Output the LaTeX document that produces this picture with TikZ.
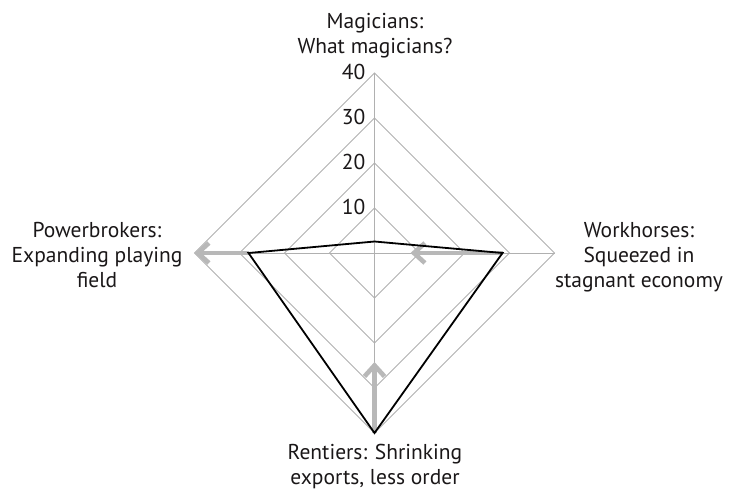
\documentclass[tikz,border=0pt]{standalone}
\usepackage{fontspec}
\setmainfont{PT Sans}
\usetikzlibrary{arrows.meta,calc}
\definecolor{ringgray}{HTML}{B0B0B0}
\definecolor{arrowgray}{HTML}{B8B8B8}
\definecolor{txt}{HTML}{1A1718}
\begin{document}
\begin{tikzpicture}[x=1pt,y=1pt,
  ring/.style={draw=ringgray, line width=0.9pt},
  series/.style={draw=black, line width=1.8pt, line join=miter},
  trend/.style={draw=arrowgray, line width=4.6pt, -{Straight Barb[length=11pt,width=20pt]}},
  cat/.style={align=center, inner sep=0pt, text=txt, font=\fontsize{21.5}{25}\selectfont},
  tick/.style={anchor=east, inner sep=0pt, text=txt, font=\fontsize{21.5}{25}\selectfont}]
\useasboundingbox (0,0) rectangle (730,-490);
\begin{scope}[shift={(374.5,-253)}]
  \foreach \r in {45,90,135,180}
    \draw[ring] (90:\r) -- (0:\r) -- (270:\r) -- (180:\r) -- cycle;
  \coordinate (top) at (90:180);
  \coordinate (bot) at (270:180);
  \coordinate (lft) at (180:180);
  \coordinate (rgt) at (0:180);
  \draw[ring] (top) -- (bot);
  \draw[ring] (lft) -- (rgt);
  \node[tick] (t10) at ($(90:45)+(-9,1)$) {10};
  \node[tick] (t20) at ($(90:90)+(-9,1)$) {20};
  \node[tick] (t30) at ($(90:135)+(-9,1)$) {30};
  \node[tick] (t40) at ($(90:180)+(-9,1)$) {40};
  \coordinate (dM) at (90:11.5);
  \coordinate (dW) at (0:128);
  \coordinate (dR) at (270:180);
  \coordinate (dP) at (180:126);
  \coordinate (aW) at (0:36);
  \coordinate (aR) at (270:109);
  \draw[trend] (dP) -- (lft);
  \draw[trend] (dW) -- (aW);
  \draw[trend] (dR) -- (aR);
  \draw[series] (dM) -- (dW) -- (dR) -- (dP) -- cycle;
\end{scope}
\node[cat] (mag) at (375,-36) {Magicians:\\What magicians?};
\node[cat] (pow) at (97,-255) {Powerbrokers:\\Expanding playing\\field};
\node[cat] (wor) at (639,-257) {Workhorses:\\Squeezed in\\stagnant economy};
\node[cat] (ren) at (375,-466.5) {Rentiers: Shrinking\\exports, less order};
\end{tikzpicture}
\end{document}
